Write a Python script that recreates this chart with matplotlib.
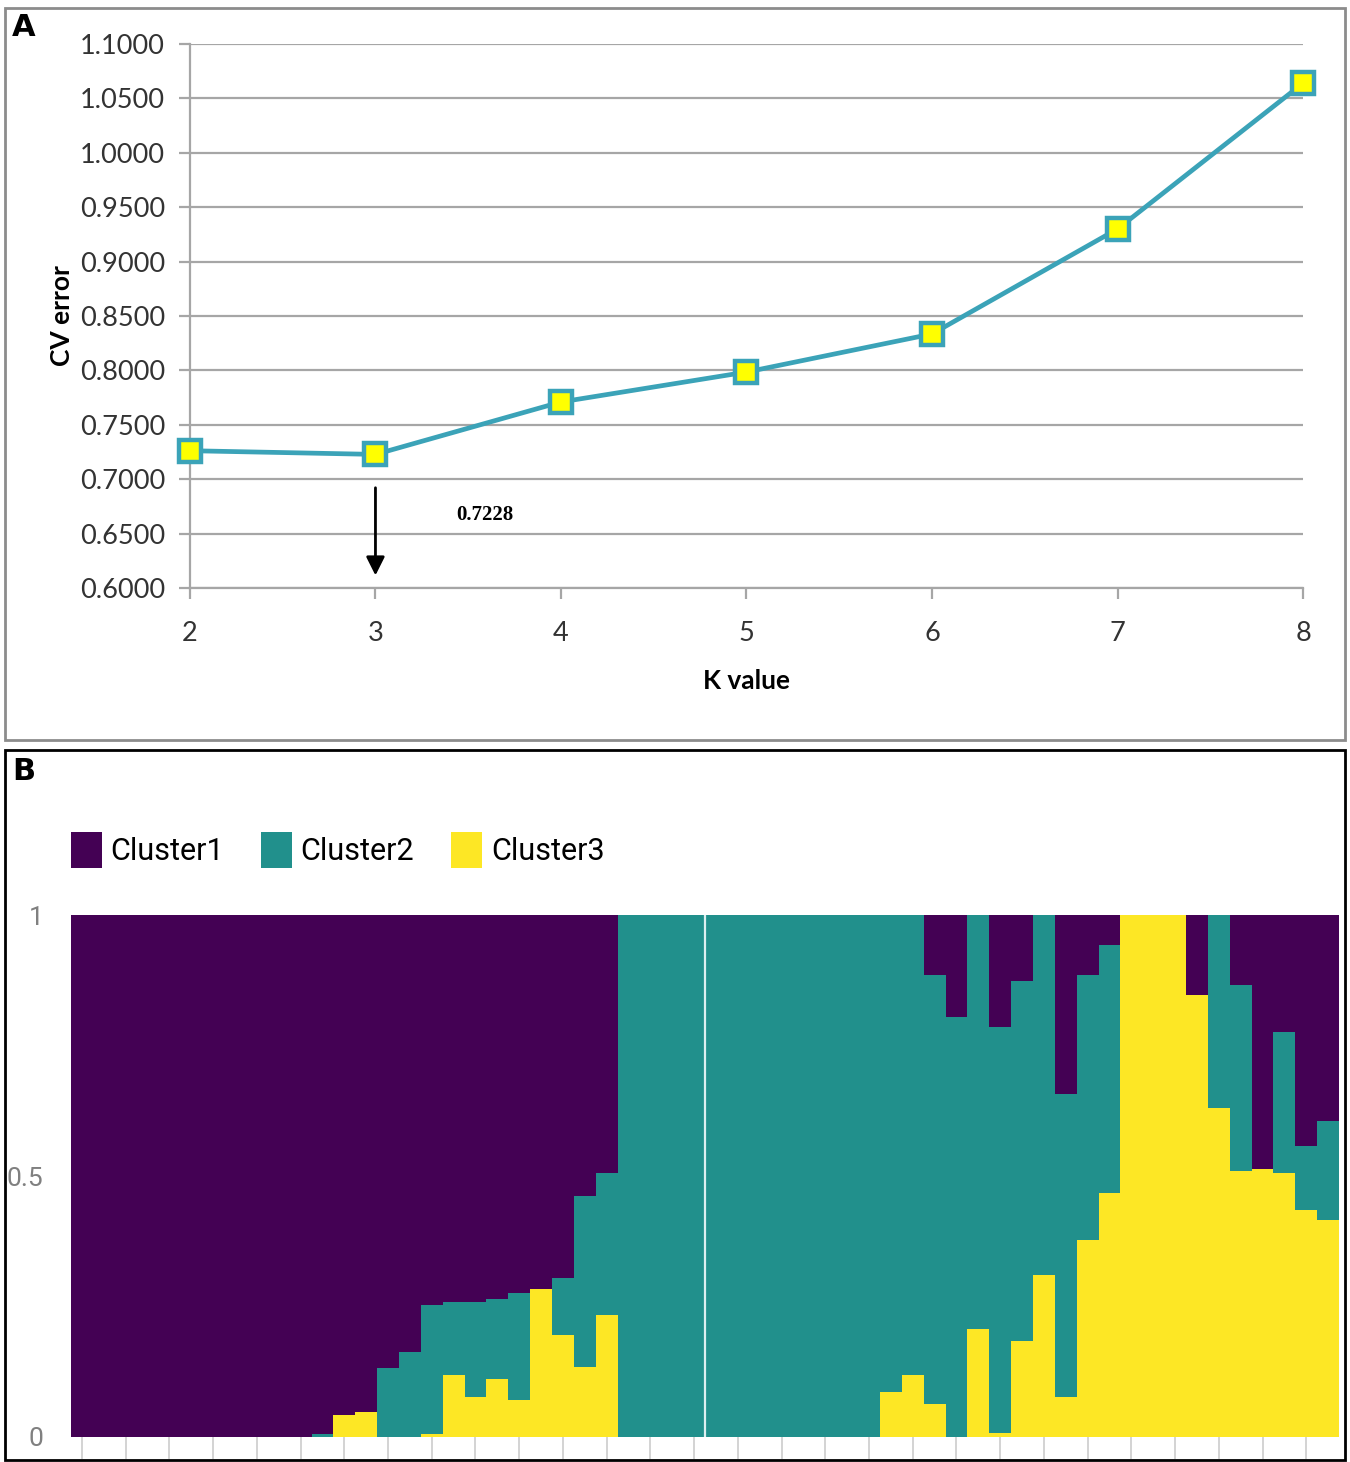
import numpy as np
import matplotlib.pyplot as plt
from matplotlib.patches import Patch, Rectangle

# Painel A: erro de validação cruzada por K
k_values = [2, 3, 4, 5, 6, 7, 8]
cv_error = [0.7262, 0.7228, 0.7710, 0.7985, 0.8335, 0.9300, 1.0640]

# Painel B: proporções de ancestralidade (K = 3), 58 indivíduos
cluster3 = [0, 0, 0, 0, 0, 0, 0, 0, 0, 0, 0, 0, 0.042, 0.048, 0, 0,
            0.005, 0.118, 0.077, 0.112, 0.070, 0.283, 0.195, 0.134, 0.233,
            0, 0, 0, 0, 0, 0, 0, 0, 0, 0, 0, 0,
            0.087, 0.118, 0.063, 0, 0.207, 0.007, 0.183, 0.310, 0.077, 0.377,
            0.467, 1.0, 1.0, 1.0, 0.847, 0.630, 0.510, 0.514, 0.505, 0.435, 0.416]
cluster2 = [0, 0, 0, 0, 0, 0, 0, 0, 0, 0, 0, 0.005, 0, 0, 0.132, 0.162,
            0.248, 0.140, 0.182, 0.153, 0.205, 0.0, 0.110, 0.327, 0.272,
            1, 1, 1, 1, 1, 1, 1, 1, 1, 1, 1, 1,
            0.913, 0.882, 0.823, 0.805, 0.793, 0.779, 0.690, 0.690, 0.581, 0.509,
            0.475, 0, 0, 0, 0, 0.370, 0.356, 0, 0.271, 0.122, 0.189]
cluster_names = ['Cluster1', 'Cluster2', 'Cluster3']
cluster_colors = ['#440154', '#21908C', '#FDE725']

c3 = np.array(cluster3)
c2 = np.array(cluster2)
c1 = 1 - c2 - c3
idx = np.arange(len(c3))

fig = plt.figure(figsize=(13.5, 14.62), dpi=100)

# ---------------- Painel A ----------------
axA = fig.add_axes([0.1407, 0.5978, 0.8245, 0.3721])
axA.plot(k_values, cv_error, color='#3BA3B8', lw=3.4, marker='s', markersize=16,
         markerfacecolor='#FFFF00', markeredgecolor='#3BA3B8', markeredgewidth=3.2, zorder=3,
         clip_on=False)
axA.set_xlim(2, 8)
axA.set_ylim(0.6, 1.1)
axA.set_yticks(np.arange(0.6, 1.1001, 0.05))
axA.set_yticklabels([f'{v:.4f}' for v in np.arange(0.6, 1.1001, 0.05)])
axA.set_xticks(k_values)
axA.grid(axis='y', color='#A6A6A6', lw=1.6)
axA.set_axisbelow(True)
for s in ['top', 'right']:
    axA.spines[s].set_visible(False)
for s in ['left', 'bottom']:
    axA.spines[s].set_color('#A6A6A6')
    axA.spines[s].set_linewidth(1.6)
axA.tick_params(axis='both', colors='#A6A6A6', width=1.6, length=8, labelcolor='#333333',
                labelsize=19.5)
axA.tick_params(axis='y', pad=10)
axA.tick_params(axis='x', pad=16)
for lab in axA.get_xticklabels() + axA.get_yticklabels():
    lab.set_family('Lato')
axA.set_ylabel('CV error', fontsize=19, fontweight='bold', family='Lato', labelpad=4)
axA.set_xlabel('K value', fontsize=19, fontweight='bold', family='Lato', labelpad=16)

axA.annotate('', xy=(3, 0.609), xytext=(3, 0.6947),
             arrowprops=dict(arrowstyle='-|>', color='black', lw=2, mutation_scale=28))
axA.text(3.59, 0.667, '0.7228', fontsize=15, fontweight='bold', family='Liberation Serif',
         ha='center', va='center')

# ---------------- Painel B ----------------
axB = fig.add_axes([0.0526, 0.0171, 0.9393, 0.3570])
axB.bar(idx, c3, width=1.0, color=cluster_colors[2], linewidth=0)
axB.bar(idx, c2, width=1.0, bottom=c3, color=cluster_colors[1], linewidth=0)
axB.bar(idx, c1, width=1.0, bottom=c3 + c2, color=cluster_colors[0], linewidth=0)
axB.axvline(28.5, color='#DDEFF0', lw=1.6)
axB.set_xlim(-0.5, len(c3) - 0.5)
axB.set_ylim(0, 1)
axB.set_xticks(idx[::2])
axB.set_xticklabels([])
axB.set_yticks([0, 0.5, 1])
axB.set_yticklabels(['0', '0.5', '1'])
axB.tick_params(axis='x', colors='#CCCCCC', length=16, width=1.2)
axB.tick_params(axis='y', length=0, pad=20, labelsize=19, labelcolor='#808080')
for lab in axB.get_yticklabels():
    lab.set_family('Roboto')
for s in axB.spines.values():
    s.set_visible(False)

handles = [Patch(facecolor=c, edgecolor='none') for c in cluster_colors]
axB.legend(handles, cluster_names, ncol=3, loc='lower left', bbox_to_anchor=(0.0, 1.09),
           frameon=False, handlelength=1.0, handleheight=1.45,
           handletextpad=0.3, columnspacing=1.2, borderpad=0, borderaxespad=0,
           prop={'family': 'Roboto', 'size': 22})

# molduras e letras dos painéis
fig.add_artist(Rectangle((5 / 1350, 1 - 740 / 1462), 1340 / 1350, 732 / 1462,
                         transform=fig.transFigure, fill=False, edgecolor='#8C8C8C', lw=2))
fig.add_artist(Rectangle((5 / 1350, 1 - 1460 / 1462), 1340 / 1350, 710 / 1462,
                         transform=fig.transFigure, fill=False, edgecolor='black', lw=2))
fig.text(12 / 1350, 1 - 28 / 1462, 'A', fontsize=22, fontweight='bold', va='center')
fig.text(12 / 1350, 1 - 771 / 1462, 'B', fontsize=22, fontweight='bold', va='center')

plt.savefig('out.png', dpi=100)
